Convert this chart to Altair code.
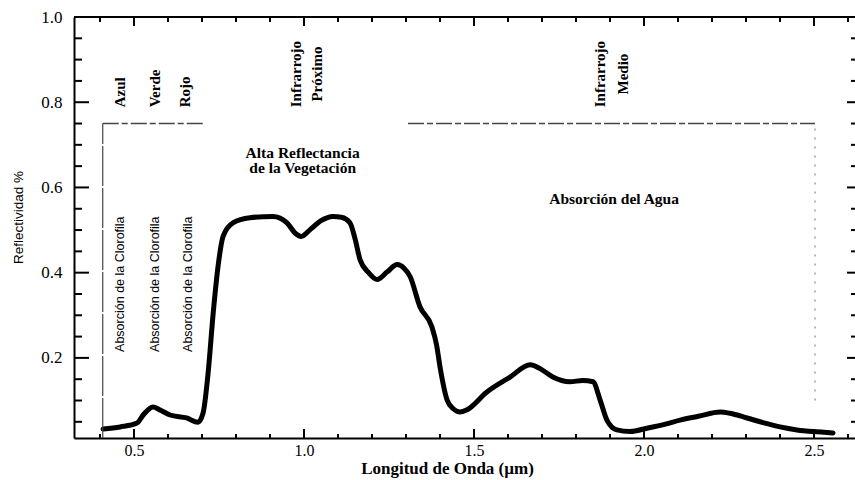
import altair as alt
import pandas as pd

# ---- data ----
wavelength = [0.409, 0.459, 0.509, 0.527, 0.556, 0.576, 0.606, 0.655, 0.688, 0.703,
              0.718, 0.733, 0.748, 0.762, 0.791, 0.841, 0.909, 0.950, 0.975, 0.992,
              1.018, 1.050, 1.085, 1.110, 1.135, 1.150, 1.165, 1.190, 1.215, 1.245,
              1.274, 1.295, 1.312, 1.341, 1.376, 1.390, 1.400, 1.421, 1.440, 1.459,
              1.479, 1.538, 1.606, 1.665, 1.700, 1.732, 1.782, 1.820, 1.850, 1.871,
              1.891, 1.920, 1.959, 2.009, 2.060, 2.106, 2.160, 2.224, 2.253, 2.303,
              2.350, 2.400, 2.450, 2.497, 2.556]
reflectance = [0.033, 0.038, 0.047, 0.066, 0.085, 0.078, 0.066, 0.059, 0.049, 0.070,
               0.165, 0.306, 0.420, 0.485, 0.517, 0.529, 0.532, 0.517, 0.492, 0.485,
               0.501, 0.522, 0.532, 0.530, 0.517, 0.480, 0.430, 0.400, 0.384, 0.402,
               0.419, 0.410, 0.391, 0.320, 0.273, 0.230, 0.179, 0.101, 0.080, 0.073,
               0.078, 0.120, 0.155, 0.184, 0.172, 0.155, 0.144, 0.147, 0.144, 0.101,
               0.054, 0.031, 0.027, 0.035, 0.044, 0.054, 0.063, 0.073, 0.070, 0.059,
               0.048, 0.038, 0.031, 0.027, 0.024]

y_major = [0.2, 0.4, 0.6, 0.8, 1.0]
y_minor = [0.05, 0.1, 0.15, 0.25, 0.3, 0.35, 0.45, 0.5, 0.55, 0.65, 0.7, 0.75,
           0.85, 0.9, 0.95]
x_major = [0.5, 1.0, 1.5, 2.0, 2.5]
x_minor = [0.4, 0.6, 0.7, 0.8, 0.9, 1.1, 1.2, 1.3, 1.4, 1.6, 1.7, 1.8, 1.9,
           2.1, 2.2, 2.3, 2.4, 2.6]

band_names = ["Azul", "Verde", "Rojo"]
ir_names = ["Infrarrojo", "Próximo", "Infrarrojo", "Medio"]
chloro_names = ["Absorción de la Clorofila"] * 3
note_names = ["Alta Reflectancia", "de la Vegetación", "Absorción del Agua"]

# ---- annotation anchors (data units) ----
band_x = [0.459, 0.562, 0.650]
band_y = [0.788, 0.788, 0.788]
ir_x = [0.976, 1.038, 1.871, 1.938]
ir_y = [0.866, 0.866, 0.866, 0.866]
chloro_x = [0.459, 0.562, 0.659]
chloro_y = [0.214, 0.214, 0.214]
note_x = [0.996, 0.996, 1.912]
note_y = [0.682, 0.646, 0.572]

W, H = 781, 421
XDOM = [0.3235, 2.6206]
YDOM = [0.012, 1.0]
SERIF = "Liberation Serif"
SANS = "Liberation Sans"

xs = alt.Scale(domain=XDOM, nice=False, zero=False)
ys = alt.Scale(domain=YDOM, nice=False, zero=False)

XAX = alt.Axis(
    values=x_major, format=".1f", ticks=False, tickSize=0, grid=False,
    domainColor="black", domainWidth=2, labelFont=SERIF, labelFontSize=16,
    labelColor="black", labelPadding=4, labelFlush=False,
    title="Longitud de Onda (µm)", titleFont=SERIF, titleFontSize=17,
    titleFontWeight="bold", titleColor="black", titleX=373, titleY=35,
    titleAlign="center", titleBaseline="alphabetic")
YAX = alt.Axis(
    values=y_major, format=".1f", ticks=False, tickSize=0, grid=False,
    domainColor="black", domainWidth=2, labelFont=SERIF, labelFontSize=17,
    labelColor="black", labelPadding=12, labelFlush=False,
    title="Reflectividad %", titleFont=SANS, titleFontSize=13.5,
    titleFontWeight="normal", titleColor="black", titleX=-56, titleY=200,
    titleAlign="center", titleBaseline="middle", titleAngle=270)


def X(field):
    return alt.X(field, scale=xs, axis=XAX, title="Longitud de Onda (µm)")


def Y(field):
    return alt.Y(field, scale=ys, axis=YAX, title="Reflectividad %")


curve_df = pd.DataFrame({"wl": wavelength, "r": reflectance})

curve = alt.Chart(curve_df).mark_line(
    color="black", strokeWidth=5, strokeJoin="round", strokeCap="round",
    interpolate="monotone"
).encode(x=X("wl:Q"), y=Y("r:Q"))


def ydf(v):
    return pd.DataFrame({"v": v})


def yticks(vals, x0, x1):
    return alt.Chart(ydf(vals)).mark_rule(color="black", strokeWidth=2).encode(
        y=Y("v:Q"), x=alt.value(x0), x2=alt.value(x1))


def xticks(vals, y0, y1):
    return alt.Chart(ydf(vals)).mark_rule(color="black", strokeWidth=2).encode(
        x=X("v:Q"), y=alt.value(y0), y2=alt.value(y1))


ticks = [
    yticks(y_major, 0, 15), yticks(y_minor, 0, 8),
    yticks(y_major, W, W - 8), yticks(y_minor, W, W - 4),
    xticks(x_major, H, H - 9), xticks(x_minor, H, H - 4),
    xticks(x_major, 0, 9), xticks(x_minor, 0, 5),
]

top_line = alt.Chart(ydf([0])).mark_rule(color="black", strokeWidth=2).encode(
    x=alt.value(0), x2=alt.value(W), y=alt.value(0))

# region boundaries
bx = [0.408, 0.408, 1.306, 2.503]
bx2 = [0.408, 0.710, 2.503, 2.503]
by = [0.012, 0.75, 0.75, 0.10]
by2 = [0.75, 0.75, 0.75, 0.75]
bkind = ["solid", "dash", "dash", "dot"]
bdf = pd.DataFrame({"x": bx, "x2": bx2, "y": by, "y2": by2, "k": bkind})


def bound(kind, dash, color, width):
    return alt.Chart(bdf).transform_filter(alt.datum.k == kind).mark_rule(
        color=color, strokeWidth=width, strokeDash=dash).encode(
        x=X("x:Q"), x2="x2:Q", y=Y("y:Q"), y2="y2:Q")


bounds = [
    bound("solid", [40, 2], "#444444", 1.2),
    bound("dash", [16, 3, 6, 3], "#444444", 1.5),
    bound("dot", [2, 7], "#888888", 1.2),
]


def text_layer(names, xv, yv, font, size, weight, angle, align, baseline="middle"):
    df = pd.DataFrame({"t": names, "x": xv, "y": yv})
    return alt.Chart(df).mark_text(
        font=font, fontSize=size, fontWeight=weight, angle=angle, align=align,
        baseline=baseline, color="black").encode(
        x=X("x:Q"), y=Y("y:Q"), text="t:N")


texts = [
    text_layer(band_names, band_x, band_y, SERIF, 15, "bold", 270, "left"),
    text_layer(ir_names, ir_x, ir_y, SERIF, 15, "bold", 270, "center"),
    text_layer(chloro_names, chloro_x, chloro_y, SANS, 12.5, "normal", 270, "left"),
    text_layer(note_names, note_x, note_y, SERIF, 15.5, "bold", 0, "center"),
]

chart = alt.layer(curve, *bounds, *ticks, top_line, *texts).properties(
    width=W, height=H,
    autosize=alt.AutoSizeParams(type="none"),
    padding={"left": 74, "top": 17, "right": 0, "bottom": 42},
    background="white",
).configure_view(strokeWidth=0)

chart.save("out.html", embed_options={"renderer": "svg", "actions": False})
